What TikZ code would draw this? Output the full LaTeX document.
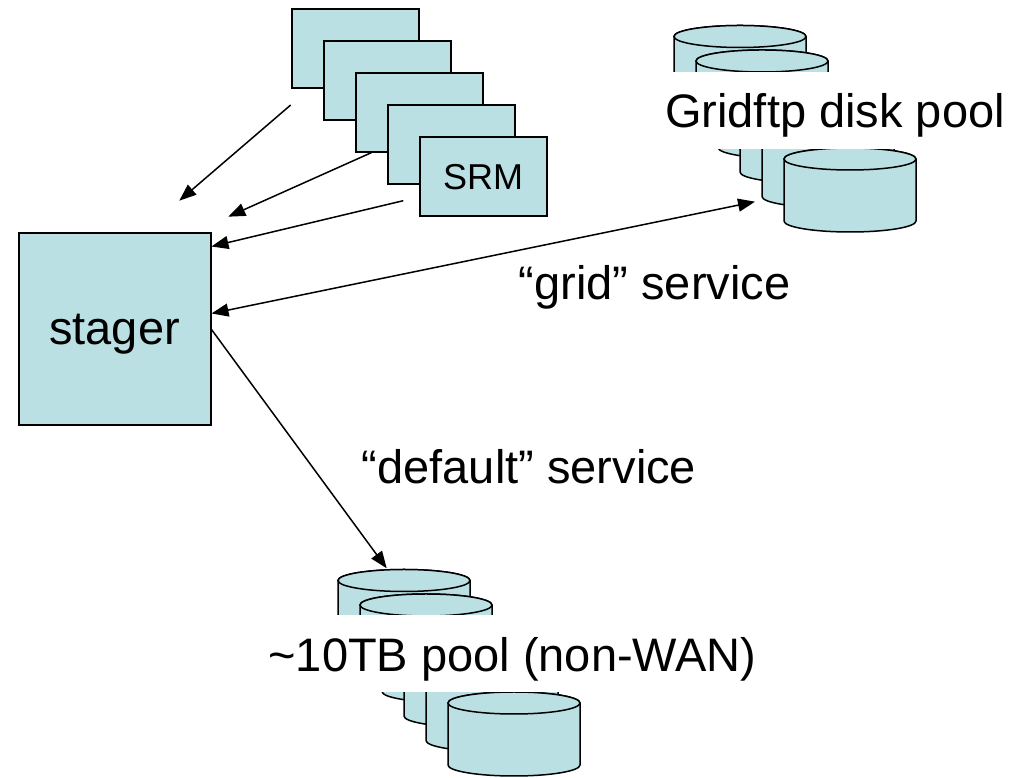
\documentclass[tikz,border=0pt]{standalone}
\usepackage{fontspec}
\setmainfont{Liberation Sans}
\usetikzlibrary{arrows.meta}
\definecolor{poolblue}{RGB}{187,224,227}

\begin{document}
\begin{tikzpicture}
[x=1pt,y=1pt,every node/.style={inner sep=0pt},
 >={Triangle[length=17pt,width=13pt]},
 box/.style={draw,line width=2pt,fill=poolblue},
 disk/.style={draw,line width=1.5pt,fill=poolblue},
 big/.style={font=\fontsize{47}{56}\selectfont},
 poolname/.style={big,fill=white,minimum height=77pt,inner xsep=12pt,text depth=0pt},
 arr/.style={line width=1.5pt,->}]

  \useasboundingbox (0,0) rectangle (1014,778);

  % srm boxes
  \foreach \i in {0,...,3}
    \node (s\i) at (355+32*\i,729-32*\i) [box,minimum width=127pt,minimum height=79pt] {};
  \node (s4) at (483,601) [box,minimum width=127pt,minimum height=79pt,font=\fontsize{36}{43}\selectfont] {SRM};

  \node (stager) at (114.5,448.5) [box,minimum size=192pt,big,text depth=0pt] {stager};

  % disk pools, back to front
  \foreach \x/\y in {674/741.5, 338/197.5}
    \foreach \i in {0,...,5} {
      \filldraw[disk] (\x+22*\i,\y-24.5*\i) -- ++(0,-62)
        arc[start angle=180,end angle=360,x radius=66,y radius=11] -- ++(0,62)
        arc[start angle=0,end angle=180,x radius=66,y radius=11] -- cycle;
      \draw[disk] (\x+66+22*\i,\y-24.5*\i) ellipse[x radius=66,y radius=11];
    }

  \node (gridpool) at (835,667.5) [poolname] {Gridftp disk pool};
  \node (tenpool) at (512.5,124) [poolname] {\textasciitilde10TB pool (non-WAN)};

  \node (gridsvc) at (654.5,478) [anchor=base,big] {“grid” service};
  \node (defsvc) at (529,294.7) [anchor=base,big] {“default” service};

  \coordinate (t1) at (290.7,673);
  \coordinate (h1) at (179.3,577.3);
  \coordinate (t2) at (371.3,625.3);
  \coordinate (h2) at (228.3,561.3);
  \coordinate (t3) at (403.3,577.3);
  \coordinate (gridend) at (755,576.3);
  \coordinate (poolend) at (386.7,209.7);

  \foreach \from/\to in {t1/h1,t2/h2}
    \draw[arr] (\from) -- (\to);
  \draw[arr] (t3) -- ([yshift=-14pt]stager.north east);
  \draw[arr,<->] ([yshift=16pt]stager.east) -- (gridend);
  \draw[arr] (stager.east) -- (poolend);

\end{tikzpicture}
\end{document}
